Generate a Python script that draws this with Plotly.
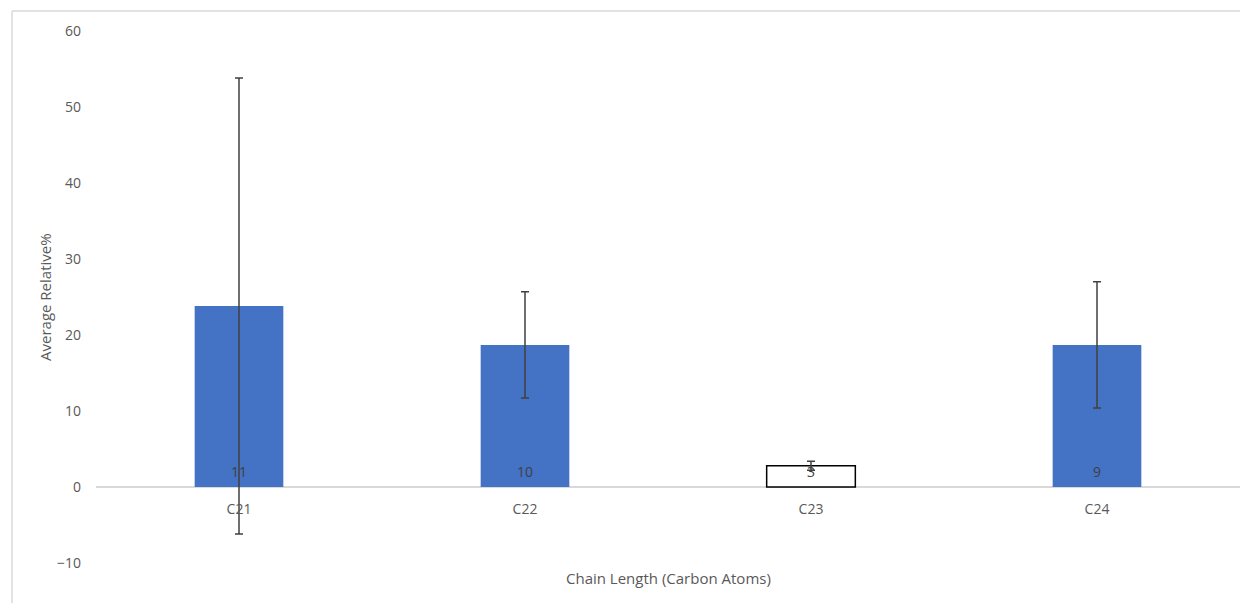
import plotly.graph_objects as go

categories = ["C21", "C22", "C23", "C24"]
values = [23.8, 18.7, 2.8, 18.7]
errors = [30.0, 7.0, 0.6, 8.3]
counts = ["11", "10", "3", "9"]
fill_colors = ["#4472C4", "#4472C4", "#FFFFFF", "#4472C4"]
line_colors = ["#4472C4", "#4472C4", "#000000", "#4472C4"]
line_widths = [0, 0, 1.5, 0]
y_min, y_max = -10, 60

font_family = "Open Sans, Liberation Sans, sans-serif"
grey = "#595959"

fig = go.Figure()
fig.add_trace(go.Bar(
    x=categories, y=values, width=0.31,
    marker=dict(color=fill_colors, line=dict(color=line_colors, width=line_widths)),
    error_y=dict(type="data", array=errors, visible=True, color="#404040", thickness=1.5, width=4),
    showlegend=False, hoverinfo="skip",
))

zero_pos = (0 - y_min) / (y_max - y_min)

annotations = [
    dict(text=c, x=cat, y=0, xref="x", yref="y", yshift=16, showarrow=False,
         xanchor="center", yanchor="middle", font=dict(size=14, color="#404040"))
    for cat, c in zip(categories, counts)
]
annotations += [
    dict(text="Chain Length (Carbon Atoms)", xref="paper", yref="paper", x=0.5, y=-0.0282,
         xanchor="center", yanchor="middle", showarrow=False, font=dict(size=15, color=grey)),
    dict(text="Average Relative%", xref="paper", yref="paper", x=-0.0446, y=0.5, textangle=-90,
         xanchor="center", yanchor="middle", showarrow=False, font=dict(size=15, color=grey)),
]

fig.update_layout(
    width=1240, height=595,
    margin=dict(l=88, r=8, t=23, b=40),
    paper_bgcolor="white", plot_bgcolor="white",
    font=dict(family=font_family, size=14, color=grey),
    xaxis=dict(showgrid=False, showline=False, ticks="", automargin=False,
               anchor="free", position=zero_pos,
               tickfont=dict(size=14, color=grey), ticklabelstandoff=12),
    yaxis=dict(range=[y_min, y_max], dtick=10, showgrid=False, showline=False, zeroline=True,
               zerolinecolor="#d9d9d9", zerolinewidth=1.5, tickfont=dict(size=14, color=grey),
               ticklabelstandoff=14, automargin=False),
    annotations=annotations,
    shapes=[
        dict(type="line", xref="paper", yref="paper", x0=-0.0734, x1=-0.0734, y0=-0.2, y1=1.0376,
             line=dict(color="#d9d9d9", width=1.5)),
        dict(type="line", xref="paper", yref="paper", x0=-0.0734, x1=1.1, y0=1.0376, y1=1.0376,
             line=dict(color="#d9d9d9", width=1.5)),
    ],
)

fig.write_html("out.html")
